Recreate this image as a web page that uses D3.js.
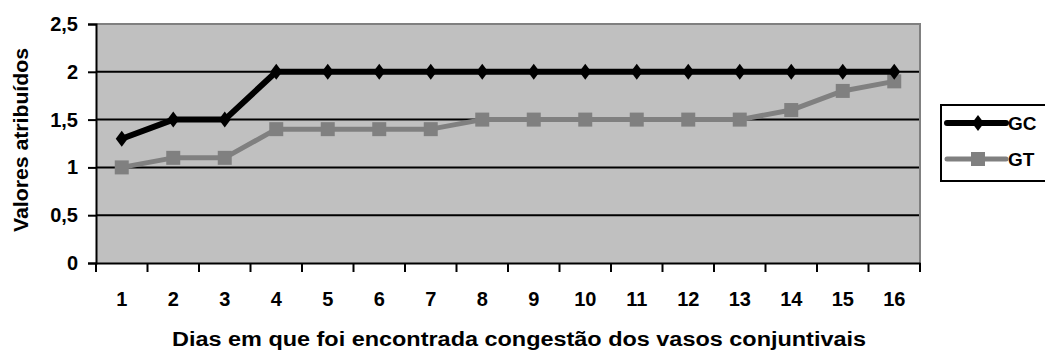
<!DOCTYPE html>
<html>
<head>
<meta charset="utf-8">
<script src="https://cdn.jsdelivr.net/npm/d3@7"></script>
<style>
  body { margin: 0; background: #fff; }
  text { font-family: "Liberation Sans", Arial, sans-serif; font-weight: bold; fill: #000; }
</style>
</head>
<body>
<svg id="chart" width="1045" height="350"></svg>
<script>
const categories = ["1","2","3","4","5","6","7","8","9","10","11","12","13","14","15","16"];
const gcValues = [1.3, 1.5, 1.5, 2, 2, 2, 2, 2, 2, 2, 2, 2, 2, 2, 2, 2];
const gtValues = [1.0, 1.1, 1.1, 1.4, 1.4, 1.4, 1.4, 1.5, 1.5, 1.5, 1.5, 1.5, 1.5, 1.6, 1.8, 1.9];
const yTicks = [0, 0.5, 1, 1.5, 2, 2.5];
const seriesNames = ["GC", "GT"];
const xTitle = "Dias em que foi encontrada congestão dos vasos conjuntivais";
const yTitle = "Valores atribuídos";

const svg = d3.select("#chart");
const m = { left: 96, right: 920, top: 24, bottom: 263 };
const FONT = "'Liberation Sans', Arial, sans-serif";

const x = d3.scaleBand().domain(categories).range([m.left, m.right]);
const y = d3.scaleLinear().domain([0, 2.5]).range([m.bottom, m.top]);
const fmt = d => String(d).replace(".", ",");

// plot background
svg.append("rect")
  .attr("x", m.left).attr("y", m.top)
  .attr("width", m.right - m.left).attr("height", m.bottom - m.top)
  .attr("fill", "#c0c0c0");

// gridlines
svg.append("g").selectAll("line").data(yTicks.filter(d => d > 0 && d < 2.5)).join("line")
  .attr("x1", m.left).attr("x2", m.right)
  .attr("y1", d => y(d)).attr("y2", d => y(d))
  .attr("stroke", "#000").attr("stroke-width", 2);

// top and right border (gray)
svg.append("path")
  .attr("d", `M${m.left},${m.top}H${m.right}V${m.bottom}`)
  .attr("fill", "none").attr("stroke", "#808080").attr("stroke-width", 2);

// y axis
const yAxis = d3.axisLeft(y).tickValues(yTicks).tickFormat(fmt).tickSize(8).tickPadding(10);
const gy = svg.append("g").attr("transform", `translate(${m.left},0)`).call(yAxis);
gy.attr("font-size", null).attr("font-family", null);
gy.select(".domain").attr("stroke", "#000").attr("stroke-width", 2);
gy.selectAll(".tick line").attr("stroke", "#000").attr("stroke-width", 2);
gy.selectAll(".tick text").style("font-size", "20px").style("font-family", FONT).style("font-weight", "bold").attr("fill", "#000");

// x axis
const xAxis = d3.axisBottom(x).tickSize(0).tickPadding(29);
const gx = svg.append("g").attr("transform", `translate(0,${m.bottom})`).call(xAxis);
gx.attr("font-size", null).attr("font-family", null);
gx.select(".domain").attr("stroke", "#000").attr("stroke-width", 2);
gx.selectAll(".tick text").style("font-size", "20px").style("font-family", FONT).style("font-weight", "bold").attr("fill", "#000");
// boundary ticks between categories
const bounds = categories.map(c => x(c)).concat([m.right]);
svg.append("g").selectAll("line").data(bounds).join("line")
  .attr("x1", d => d).attr("x2", d => d)
  .attr("y1", m.bottom).attr("y2", m.bottom + 9)
  .attr("stroke", "#000").attr("stroke-width", 2);

const cx = c => x(c) + x.bandwidth() / 2;
const line = d3.line().x((d, i) => cx(categories[i])).y(d => y(d));

// GT series
svg.append("path").datum(gtValues).attr("d", line)
  .attr("fill", "none").attr("stroke", "#808080").attr("stroke-width", 5).attr("stroke-linejoin", "round");
svg.append("g").selectAll("rect").data(gtValues).join("rect")
  .attr("x", (d, i) => cx(categories[i]) - 7).attr("y", d => y(d) - 7)
  .attr("width", 14).attr("height", 14).attr("fill", "#808080");

// GC series
svg.append("path").datum(gcValues).attr("d", line)
  .attr("fill", "none").attr("stroke", "#000").attr("stroke-width", 6).attr("stroke-linejoin", "round");
const diamond = "M0,-8L6,0L0,8L-6,0Z";
svg.append("g").selectAll("path").data(gcValues).join("path")
  .attr("transform", (d, i) => `translate(${cx(categories[i])},${y(d)})`)
  .attr("d", diamond).attr("fill", "#000");

// axis titles
svg.append("text").attr("x", 519).attr("y", 346)
  .attr("text-anchor", "middle").style("font-size", "20px")
  .attr("textLength", 694).attr("lengthAdjust", "spacingAndGlyphs")
  .text(xTitle);
svg.append("text").attr("transform", `translate(28,140) rotate(-90)`)
  .attr("text-anchor", "middle").style("font-size", "20px")
  .attr("textLength", 184).attr("lengthAdjust", "spacingAndGlyphs")
  .text(yTitle);

// legend
const lg = svg.append("g");
lg.append("rect").attr("x", 941).attr("y", 105).attr("width", 120).attr("height", 76)
  .attr("fill", "#fff").attr("stroke", "#000").attr("stroke-width", 2);
const legendY = [123, 159];
seriesNames.forEach((name, i) => {
  const col = i === 0 ? "#000" : "#808080";
  lg.append("line").attr("x1", 947).attr("x2", 1006).attr("y1", legendY[i]).attr("y2", legendY[i])
    .attr("stroke", col).attr("stroke-width", i === 0 ? 6 : 5).attr("stroke-linecap", "round");
  if (i === 0) {
    lg.append("path").attr("transform", `translate(978,${legendY[i]})`).attr("d", diamond).attr("fill", col);
  } else {
    lg.append("rect").attr("x", 971).attr("y", legendY[i] - 7).attr("width", 14).attr("height", 14).attr("fill", col);
  }
  lg.append("text").attr("x", 1008).attr("y", legendY[i] + 7).style("font-size", "19px").text(name);
});
</script>
</body>
</html>
